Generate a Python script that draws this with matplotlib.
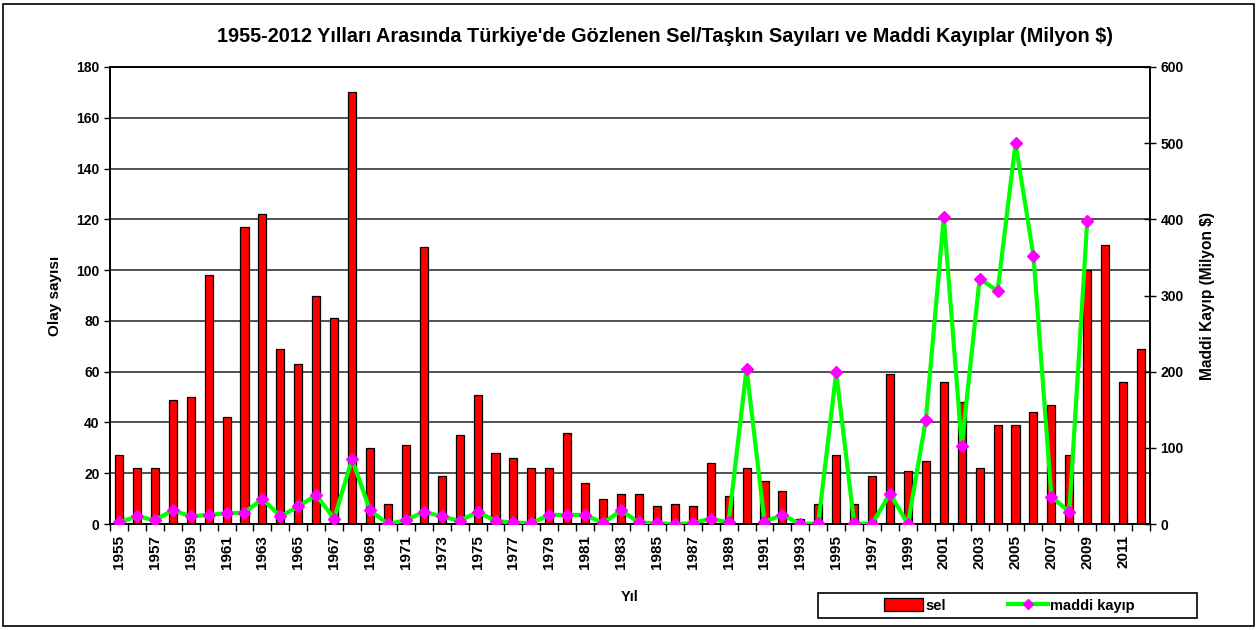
import matplotlib
matplotlib.use("Agg")
import matplotlib.pyplot as plt
import numpy as np
from matplotlib.patches import Rectangle
from matplotlib.lines import Line2D

years = list(range(1955, 2013))
sel = [27, 22, 22, 49, 50, 98, 42, 117, 122, 69,
       63, 90, 81, 170, 30, 8, 31, 109, 19, 35,
       51, 28, 26, 22, 22, 36, 16, 10, 12, 12,
       7, 8, 7, 24, 11, 22, 17, 13, 2, 8,
       27, 8, 19, 59, 21, 25, 56, 48, 22, 39,
       39, 44, 47, 27, 100, 110, 56, 69]
kayip = [2, 10, 5, 18, 10, 12, 14, 15, 33, 10,
         23, 38, 7, 85, 18, 0, 5, 16, 10, 4,
         16, 4, 2, 1, 12, 12, 12, 1, 18, 2,
         1, 0, 1, 7, 2, 204, 3, 12, 0, 1,
         199, 1, 0, 40, 0, 137, 403, 103, 322, 306,
         500, 352, 36, 16, 398]

title = "1955-2012 Yılları Arasında Türkiye'de Gözlenen Sel/Taşkın Sayıları ve Maddi Kayıplar (Milyon $)"

plt.rcParams['font.family'] = ['Liberation Sans', 'DejaVu Sans']
plt.rcParams['font.weight'] = 'bold'

fig = plt.figure(figsize=(12.58, 6.30), dpi=100)
W, H = 1258, 630
L, R, T, B = 110, 1150, 67, 524
ax = fig.add_axes([L / W, 1 - B / H, (R - L) / W, (B - T) / H])

x = np.arange(len(years))
ax.bar(x, sel, width=0.45, color='#FF0000', edgecolor='black', linewidth=0.9, zorder=3)
ax.set_xlim(-0.5, len(years) - 0.5)
ax.set_ylim(0, 180)
ax.set_yticks(np.arange(0, 181, 20))
ax.yaxis.grid(True, color='#333333', linewidth=1.2, zorder=0)
ax.set_axisbelow(True)
ax.tick_params(axis='y', direction='out', length=4, labelsize=10, width=1)
for lab in ax.get_yticklabels():
    lab.set_fontweight('bold')

ax.set_xticks(x[::2])
ax.set_xticklabels([str(y) for y in years[::2]], rotation=90, fontsize=11, fontweight='bold')
ax.set_xticks(np.arange(-0.5, len(years), 1), minor=True)
ax.tick_params(axis='x', which='major', length=0, pad=8)
ax.tick_params(axis='x', which='minor', length=5, direction='out', width=1)
ax.set_xlabel('Yıl', fontsize=10.5, fontweight='bold', labelpad=15)
ax.set_ylabel('Olay sayısı', fontsize=11, fontweight='bold', labelpad=10)
for s in ax.spines.values():
    s.set_color('black')
    s.set_linewidth(1.2)

ax2 = ax.twinx()
ax2.plot(x[:len(kayip)], kayip, color='#00FF00', linewidth=3, marker='D',
         markersize=6, markerfacecolor='#FF00FF', markeredgecolor='#FF00FF', zorder=4)
ax2.set_ylim(0, 600)
ax2.set_yticks(np.arange(0, 601, 100))
ax2.tick_params(axis='y', direction='inout', length=8, labelsize=10, width=1)
for lab in ax2.get_yticklabels():
    lab.set_fontweight('bold')
ax2.set_ylabel('Maddi Kayıp (Milyon $)', fontsize=11.2, fontweight='bold', labelpad=12)
for s in ax2.spines.values():
    s.set_color('black')
    s.set_linewidth(1.2)

fig.text(665 / W, 1 - 36 / H, title, ha='center', va='center', fontsize=14.3, fontweight='bold')

handles = [Rectangle((0, 0), 1, 1, facecolor='#FF0000', edgecolor='black', linewidth=0.9),
           Line2D([0], [0], color='#00FF00', linewidth=3, marker='D', markersize=5,
                  markerfacecolor='#FF00FF', markeredgecolor='#FF00FF')]
leg = fig.legend(handles, ['sel', 'maddi kayıp'], loc='center',
                 bbox_to_anchor=(1009 / W, 1 - 605.5 / H), ncol=2, frameon=False,
                 prop={'weight': 'bold', 'size': 10.5},
                 columnspacing=4.3, handlelength=2.7, handleheight=0.9, handletextpad=0.15)
legbox = Rectangle((818 / W, 1 - 618 / H), (1197 - 818) / W, 25 / H, transform=fig.transFigure,
                   fill=False, edgecolor='black', linewidth=1.2)
fig.patches.append(legbox)

border = Rectangle((3 / W, 4 / H), 1 - 7 / W, 1 - 8 / H, transform=fig.transFigure,
                   fill=False, edgecolor='black', linewidth=1.2)
fig.patches.append(border)

fig.savefig('out.png', dpi=100)
